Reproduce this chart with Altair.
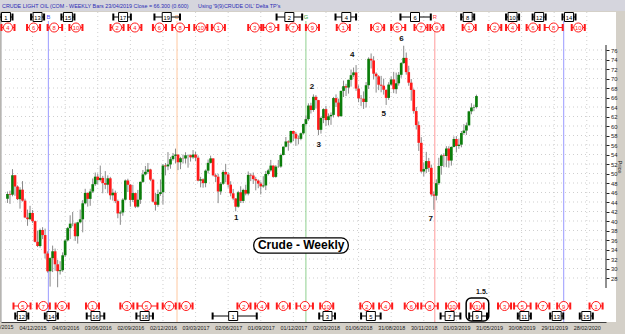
import altair as alt
import pandas as pd

# ---------------------------------------------------------------- data
REF = "2015-12-04"          # week 0 = first date label
first_week = "2015-09-25"   # first weekly bar (Fridays)

opens_2015 = [44.68, 45.70, 45.54, 49.63, 47.26, 44.60, 46.59, 44.29, 40.74, 40.39, 41.71, 39.97, 35.62, 34.73]
highs_2015 = [46.20, 46.40, 50.92, 49.70, 47.50, 47.10, 48.40, 44.70, 42.40, 43.20, 42.30, 40.10, 37.90, 38.40]
lows_2015 = [43.80, 43.60, 45.20, 45.30, 44.40, 42.60, 44.10, 40.60, 38.99, 40.20, 39.60, 35.50, 34.50, 34.40]
closes_2015 = [45.70, 45.54, 49.63, 47.26, 44.60, 46.59, 44.29, 40.74, 40.39, 41.71, 39.97, 35.62, 34.73, 38.10]

opens_2016 = [38.10, 37.04, 33.16, 29.42, 32.19, 33.62, 30.89, 29.44, 29.64, 32.78, 35.92, 38.50, 39.44, 39.46,
              36.79, 39.72, 40.36, 43.73, 45.92, 44.66, 46.21, 47.75, 49.33, 48.62, 49.07, 47.98, 47.64, 48.99,
              45.41, 45.95, 44.19, 41.60, 41.80, 44.49, 48.52, 47.64, 44.44, 45.88, 43.03, 44.48, 48.24, 49.81,
              50.35, 50.85, 48.70, 44.07, 43.41, 45.69, 46.06, 51.68, 51.50, 51.90, 53.02]
highs_2016 = [38.70, 38.40, 33.60, 32.35, 34.82, 34.20, 31.80, 31.53, 33.40, 36.20, 38.75, 41.20, 41.90, 39.70,
              39.80, 42.40, 44.40, 46.78, 46.00, 46.79, 48.95, 50.21, 49.93, 51.67, 49.50, 50.50, 49.60, 49.30,
              46.80, 46.40, 44.50, 42.20, 44.80, 48.75, 48.90, 47.80, 47.62, 46.00, 46.55, 48.30, 50.74, 51.60,
              52.22, 51.00, 48.90, 45.95, 46.60, 48.75, 52.00, 52.20, 54.51, 53.50, 54.33]
lows_2016 = [36.20, 32.10, 29.13, 26.19, 29.25, 29.52, 26.05, 28.73, 29.30, 32.40, 35.70, 36.20, 38.88, 35.80,
             35.24, 39.50, 37.61, 43.50, 43.03, 43.20, 45.90, 47.40, 47.70, 48.30, 45.83, 46.70, 45.83, 44.50,
             44.30, 43.76, 40.57, 39.19, 41.10, 44.30, 46.10, 43.01, 44.00, 42.72, 42.80, 43.60, 48.00, 49.60,
             49.91, 48.38, 43.89, 42.20, 43.00, 45.30, 43.50, 49.60, 50.70, 51.00, 52.70]
closes_2016 = [37.04, 33.16, 29.42, 32.19, 33.62, 30.89, 29.44, 29.64, 32.78, 35.92, 38.50, 39.44, 39.46, 36.79,
               39.72, 40.36, 43.73, 45.92, 44.66, 46.21, 47.75, 49.33, 48.62, 49.07, 47.98, 47.64, 48.99, 45.41,
               45.95, 44.19, 41.60, 41.80, 44.49, 48.52, 47.64, 44.44, 45.88, 43.03, 44.48, 48.24, 49.81, 50.35,
               50.85, 48.70, 44.07, 43.41, 45.69, 46.06, 51.68, 51.50, 51.90, 53.02, 53.72]

opens_2017 = [53.72, 53.99, 52.37, 53.22, 53.17, 53.83, 53.86, 53.40, 53.99, 53.33, 48.49, 48.78, 47.97, 50.60,
              52.24, 53.18, 49.62, 49.33, 46.22, 47.84, 50.33, 49.80, 47.66, 45.83, 44.74, 43.01, 46.04, 44.23,
              46.54, 45.77, 49.71, 49.58, 48.82, 48.51, 47.87, 47.29, 47.48, 49.89, 50.66, 51.67, 49.29, 51.45,
              51.47, 53.90, 55.64, 56.74, 56.55, 58.95, 58.36, 57.36, 57.30, 58.47]
highs_2017 = [55.24, 54.00, 53.50, 54.00, 54.48, 54.00, 54.00, 54.94, 54.62, 53.80, 49.30, 48.98, 50.85, 52.94,
              53.76, 53.20, 50.00, 49.94, 48.19, 50.71, 52.00, 50.22, 48.37, 46.75, 44.81, 46.35, 47.32, 46.80,
              47.65, 50.43, 50.05, 50.22, 49.30, 48.75, 48.30, 49.42, 50.53, 51.00, 52.86, 51.70, 51.76, 52.85,
              54.20, 55.70, 57.69, 57.00, 59.05, 59.05, 58.76, 58.00, 58.62, 60.51]
lows_2017 = [52.11, 50.71, 50.91, 52.10, 52.10, 51.22, 52.51, 53.10, 52.58, 48.34, 47.09, 47.01, 47.10, 50.00,
             52.10, 49.40, 48.18, 43.76, 45.52, 47.60, 48.18, 47.02, 45.20, 44.36, 42.05, 42.80, 43.79, 43.78,
             45.40, 45.40, 48.40, 47.80, 46.46, 46.90, 45.58, 47.00, 46.50, 49.60, 50.40, 49.10, 49.10, 51.20,
             51.20, 53.80, 55.50, 54.80, 56.30, 56.80, 55.82, 56.14, 56.99, 58.20]
closes_2017 = [53.99, 52.37, 53.22, 53.17, 53.83, 53.86, 53.40, 53.99, 53.33, 48.49, 48.78, 47.97, 50.60, 52.24,
               53.18, 49.62, 49.33, 46.22, 47.84, 50.33, 49.80, 47.66, 45.83, 44.74, 43.01, 46.04, 44.23, 46.54,
               45.77, 49.71, 49.58, 48.82, 48.51, 47.87, 47.29, 47.48, 49.89, 50.66, 51.67, 49.29, 51.45, 51.47,
               53.90, 55.64, 56.74, 56.55, 58.95, 58.36, 57.36, 57.30, 58.47, 60.42]

opens_2018 = [60.42, 61.44, 64.30, 63.37, 66.14, 65.45, 59.20, 61.68, 63.55, 61.25, 62.04, 62.34, 65.88, 64.94,
              62.06, 67.39, 68.38, 68.10, 69.72, 70.70, 71.28, 67.88, 65.81, 65.74, 65.06, 68.58, 74.15, 73.80,
              71.01, 70.46, 68.69, 68.49, 67.63, 65.91, 68.72, 69.80, 67.75, 68.99, 70.78, 73.25, 74.34, 71.34,
              69.12, 67.59, 63.14, 60.19, 56.46, 50.42, 50.93, 52.61, 51.20, 45.59]
highs_2018 = [62.21, 64.77, 64.89, 66.66, 66.49, 65.50, 61.95, 63.73, 64.24, 62.65, 62.85, 66.12, 66.66, 65.75,
              67.45, 69.56, 68.88, 69.76, 71.89, 72.30, 72.83, 68.56, 66.51, 67.28, 69.25, 74.46, 75.27, 74.69,
              71.30, 70.72, 70.55, 69.98, 67.67, 69.22, 70.40, 71.40, 71.25, 71.37, 73.47, 76.90, 75.47, 72.68,
              69.88, 67.86, 64.00, 60.97, 57.65, 52.34, 54.55, 53.28, 51.87, 46.24]
lows_2018 = [60.10, 61.10, 62.63, 63.00, 63.67, 58.07, 58.40, 60.60, 60.01, 60.15, 60.24, 61.80, 64.00, 61.84,
             62.00, 66.10, 66.30, 66.82, 68.30, 70.26, 67.40, 65.00, 64.22, 63.59, 63.89, 67.80, 72.10, 69.80,
             67.03, 67.55, 67.10, 66.61, 64.43, 65.50, 68.45, 66.92, 66.80, 68.50, 70.15, 73.10, 70.80, 68.47,
             65.33, 62.59, 59.26, 54.75, 50.15, 49.41, 50.08, 50.35, 45.16, 42.36]
closes_2018 = [61.44, 64.30, 63.37, 66.14, 65.45, 59.20, 61.68, 63.55, 61.25, 62.04, 62.34, 65.88, 64.94, 62.06,
               67.39, 68.38, 68.10, 69.72, 70.70, 71.28, 67.88, 65.81, 65.74, 65.06, 68.58, 74.15, 73.80, 71.01,
               70.46, 68.69, 68.49, 67.63, 65.91, 68.72, 69.80, 67.75, 68.99, 70.78, 73.25, 74.34, 71.34, 69.12,
               67.59, 63.14, 60.19, 56.46, 50.42, 50.93, 52.61, 51.20, 45.59, 45.33]

opens_2019 = [45.33, 47.96, 51.59, 53.80, 53.69, 55.26, 52.72, 55.59, 57.26, 55.80, 56.07, 58.52, 59.04, 60.14,
              63.08, 63.89, 64.00]
highs_2019 = [48.78, 53.31, 54.04, 54.24, 55.75, 55.75, 55.70, 57.81, 57.88, 57.34, 58.95, 60.39, 60.73, 63.20,
              64.79, 64.50, 66.60]
lows_2019 = [44.35, 47.60, 49.75, 51.33, 51.33, 51.23, 51.66, 55.50, 54.52, 55.20, 55.51, 58.12, 58.11, 60.12,
             62.47, 63.12, 63.70]
closes_2019 = [47.96, 51.59, 53.80, 53.69, 55.26, 52.72, 55.59, 57.26, 55.80, 56.07, 58.52, 59.04, 60.14, 63.08,
               63.89, 64.00, 66.30]

price_ticks = list(range(28, 77, 2))
date_labels = ["2015-12-04", "2016-03-04", "2016-06-03", "2016-09-02", "2016-12-02", "2017-03-03",
               "2017-06-02", "2017-09-01", "2017-12-01", "2018-03-02", "2018-06-01", "2018-08-31",
               "2018-11-30", "2019-03-01", "2019-05-31", "2019-08-30", "2019-11-29", "2020-02-28"]
cut_label = ["2015-09-04"]

# cycle markers, positions in weeks after REF
top_box_labels = ["1", "13", "15", "17", "19", "2", "4", "6", "8", "10", "12", "14"]
top_box_at = [-10.6, 2.0, 14.1, 36.1, 53.5, 102.4, 125.1, 152.5, 173.5, 191.4, 202.0, 213.9]
top_box_from = [None, None, None, 32.2, 48.6, 97.3, 120.8, 146.7, None, None, None, None]
top_box_to = [None, None, None, 39.2, 58.8, 107.5, 129.0, 158.8, None, None, None, None]

top_circ_labels = ["4", "6", "8", "10", "2", "4", "6", "8", "10", "1", "3", "5", "7", "9", "1", "3", "5",
                   "7", "9", "1", "2", "4", "6", "8", "10"]
top_circ_at = [-9.8, 0.4, 8.6, 17.3, 33.7, 40.8, 50.6, 58.8, 67.1, 74.1, 88.6, 94.9, 103.9, 111.6, 123.9,
               137.6, 145.5, 154.9, 161.2, 174.1, 184.3, 191.4, 199.6, 207.8, 217.6]
top_circ_from = [None, None, 6.0, None, None, None, None, 55.7, None, None, None, 92.0, None, None, None,
                 None, 143.0, None, None, None, None, None, None, 204.2, None]
top_circ_to = [None, None, 11.8, None, None, None, None, 62.4, None, None, None, 98.0, None, None, None,
               None, 148.6, None, None, None, None, None, None, 211.4, None]

bot_circ_labels = ["5", "7", "9", "1", "3", "5", "7", "9", "2", "4", "6", "8", "10", "2", "4", "6", "8",
                   "10", "(1)", "3", "5", "7", "9", "1"]
bot_circ_at = [-3.9, 4.3, 11.8, 23.9, 37.6, 45.5, 54.5, 61.2, 84.3, 91.4, 100.0, 108.6, 117.3, 133.3, 140.8,
               151.0, 158.4, 167.5, 177.3, 188.2, 195.3, 203.5, 211.8, 224.7]
bot_circ_from = [-7.6, None, None, None, None, 41.8, None, None, None, None, None, 105.2, None, None, None,
                 None, 155.0, None, None, None, 192.0, None, None, None]
bot_circ_to = [-0.8, None, None, None, None, 49.8, None, None, None, None, None, 111.8, None, None, None,
               None, 161.6, None, None, None, 198.6, None, None, None]

bot_box_labels = ["12", "14", "16", "18", "1", "3", "5", "7", "9", "11", "13", "15"]
bot_box_at = [-4.3, 7.5, 25.1, 44.7, 80.0, 117.6, 134.9, 166.3, 177.3, 196.1, 209.0, 220.8]
bot_box_from = [None, None, 21.6, 41.4, 71.8, 114.3, 131.0, 162.7, 174.1, None, None, None]
bot_box_to = [None, None, 28.6, 48.0, 89.4, 120.6, 138.8, 170.6, 181.2, None, None, None]

cycle_at = [6.3, 57.6, 109.0, 160.4, 211.8]
cycle_line_colors = ["#9a9aff", "#ffc8a0", "#8fd08f", "#ff9a9a", "#9a9aff"]
cycle_letters = ["B", "O", "G", "R", ""]
cycle_letter_colors = ["#4a4aff", "#ff9a50", "#30a030", "#ff3a3a", "#4a4aff"]

wave_labels = ["1", "2", "3", "4", "5", "6", "7"]
wave_at = [81.2, 111.4, 114.1, 127.5, 140.0, 147.1, 158.8]
wave_price = [40.6, 68.2, 56.0, 74.9, 62.5, 78.3, 40.4]

name_label = "Crude - Weekly"
name_at, name_from, name_to = 107.1, 88.2, 125.9
name_price, name_lo, name_hi = 34.85, 33.25, 36.45

focus_from, focus_to, focus_text_at = 172.9, 181.9, 179.2
focus_text = "1.5."

header_left = "CRUDE LIGHT OIL (COM  - WEEKLY Bars  23/04/2019 Close = 66.300 (0.600)"
header_right = "Using '9(9)CRUDE OIL' Delta TP's"

# ---------------------------------------------------------------- helpers
REF_TS = pd.Timestamp(REF, tz="UTC")


def at_week(w):
    return (REF_TS + pd.Timedelta(days=float(w) * 7)).strftime("%Y-%m-%dT%H:%M:%SZ")


def ms_of(ts):
    return int(ts.timestamp() * 1000)


FONT = "Liberation Sans, Arial, sans-serif"

opens = opens_2015 + opens_2016 + opens_2017 + opens_2018 + opens_2019
highs = highs_2015 + highs_2016 + highs_2017 + highs_2018 + highs_2019
lows = lows_2015 + lows_2016 + lows_2017 + lows_2018 + lows_2019
closes = closes_2015 + closes_2016 + closes_2017 + closes_2018 + closes_2019
dates = pd.date_range(first_week, periods=len(closes), freq="W-FRI").strftime("%Y-%m-%d").tolist()
candles = pd.DataFrame({"date": dates, "open": opens, "high": highs, "low": lows, "close": closes})
candles["dir"] = ["up" if c >= o else "down" for o, c in zip(opens, closes)]

W, H = 605, 310
x_lo = REF_TS + pd.Timedelta(days=(-27 / 2.55) * 7)
x_hi = REF_TS + pd.Timedelta(days=((605 - 27) / 2.55) * 7)
xs = alt.Scale(type="utc", domain=[ms_of(x_lo), ms_of(x_hi)])
ys = alt.Scale(domain=[18.737, 84.0], zero=False, nice=False)

label_ms = [ms_of(pd.Timestamp(d, tz="UTC")) for d in date_labels]
X_AXIS = alt.Axis(values=label_ms, format="%d/%m/%Y", title=None, grid=False, ticks=False,
                  domain=True, domainColor="#404040", labelFont=FONT, labelFontSize=5.4,
                  labelColor="#202020", labelPadding=3, labelOverlap=False, labelFlush=False, zindex=1)
Y_AXIS = alt.Axis(orient="right", values=price_ticks, title=None, grid=False, domain=False,
                  tickSize=3, tickColor="#202020", labelFont=FONT, labelFontSize=5.8,
                  labelColor="#202020", labelPadding=1.5, zindex=1)


def X(field):
    return alt.X(f"{field}:T", scale=xs, axis=X_AXIS)


def Y(field):
    return alt.Y(f"{field}:Q", scale=ys, axis=Y_AXIS)


one = pd.DataFrame({"t": [header_left]})
layers = []

# backgrounds
layers.append(alt.Chart(one).mark_rect(color="#d5d5dd").encode(
    x=alt.value(-2), x2=alt.value(626), y=alt.value(-12), y2=alt.value(-1)))
layers.append(alt.Chart(one).mark_rect(color="white").encode(
    x=alt.value(605), x2=alt.value(615), y=alt.value(0), y2=alt.value(H)))
layers.append(alt.Chart(one).mark_rule(color="#9a9a9a", strokeWidth=1).encode(
    x=alt.value(0), y=alt.value(0), y2=alt.value(H)))

# dotted grid
layers.append(alt.Chart(pd.DataFrame({"p": price_ticks})).mark_rule(
    color="#cfcfcf", strokeDash=[1, 3], strokeWidth=1).encode(
    y=Y("p"), x=alt.value(0), x2=alt.value(W)))
layers.append(alt.Chart(pd.DataFrame({"d": date_labels})).mark_rule(
    color="#cfcfcf", strokeDash=[1, 3], strokeWidth=1).encode(
    x=X("d"), y=alt.value(0), y2=alt.value(H)))

# cycle lines + letters
cyc = pd.DataFrame({"d": [at_week(w) for w in cycle_at], "lc": cycle_line_colors,
                    "t": cycle_letters, "tc": cycle_letter_colors})
layers.append(alt.Chart(cyc).mark_rule(strokeWidth=1).encode(
    x=X("d"), y=alt.value(9), y2=alt.value(H), color=alt.Color("lc:N", scale=None)))
layers.append(alt.Chart(cyc).mark_text(font=FONT, fontSize=5.8, baseline="middle").encode(
    x=X("d"), y=alt.value(5), text="t:N", color=alt.Color("tc:N", scale=None)))

# candles
layers.append(alt.Chart(candles).mark_rule(color="#8a8a8a", strokeWidth=1).encode(
    x=X("date"), y=Y("low"), y2="high:Q"))
layers.append(alt.Chart(candles).mark_bar(size=2.7).encode(
    x=X("date"), y=Y("open"), y2="close:Q",
    color=alt.Color("dir:N", scale=alt.Scale(domain=["up", "down"], range=["#0b7d0b", "#ff1a1a"]),
                    legend=None)))

# price axis line (only over the tick range)
layers.append(alt.Chart(one).mark_rule(color="#202020", strokeWidth=1).encode(
    x=alt.value(W), y=alt.YDatum(77.05, scale=ys, axis=Y_AXIS), y2=alt.Y2Datum(25.9)))

# wave labels
waves = pd.DataFrame({"d": [at_week(w) for w in wave_at], "p": wave_price, "t": wave_labels})
layers.append(alt.Chart(waves).mark_text(font=FONT, fontSize=8, fontWeight="bold", color="#111").encode(
    x=X("d"), y=Y("p"), text="t:N"))

# name box
nm = pd.DataFrame({"a": [at_week(name_from)], "b": [at_week(name_to)], "c": [at_week(name_at)],
                   "lo": [name_lo], "hi": [name_hi], "p": [name_price], "t": [name_label]})
layers.append(alt.Chart(nm).mark_rect(fill="white", stroke="black", strokeWidth=1.3, cornerRadius=7).encode(
    x=X("a"), x2="b:T", y=Y("lo"), y2="hi:Q"))
layers.append(alt.Chart(nm).mark_text(font=FONT, fontSize=12, fontWeight="bold", color="black",
                                      baseline="middle").encode(x=X("c"), y=Y("p"), text="t:N"))


# cycle-marker rows
def marker_layers(labels, at, lo, hi, y, kind):
    stub = 2.6
    rows = []
    for lab, c, a, b in zip(labels, at, lo, hi):
        a = c - stub if a is None else a
        b = c + stub if b is None else b
        rows.append({"label": lab, "c": at_week(c), "lo": at_week(a), "hi": at_week(b)})
    df = pd.DataFrame(rows)
    col = "#ff1a1a" if kind == "circle" else "#000000"
    base = alt.Chart(df)
    return [
        base.mark_rule(color=col, strokeWidth=1).encode(x=X("lo"), x2="hi:T", y=alt.value(y)),
        base.mark_rule(color=col, strokeWidth=2).encode(x=X("lo"), y=alt.value(y - 3.5), y2=alt.value(y + 3.5)),
        base.mark_rule(color=col, strokeWidth=2).encode(x=X("hi"), y=alt.value(y - 3.5), y2=alt.value(y + 3.5)),
        base.mark_point(shape=kind, size=82 if kind == "circle" else 81, filled=True, fill="white",
                        stroke=col, strokeWidth=1, opacity=1).encode(x=X("c"), y=alt.value(y)),
        base.mark_text(font=FONT, fontSize=5.8, color=col, baseline="middle").encode(
            x=X("c"), y=alt.value(y + 0.5), text="label:N"),
    ]


layers += marker_layers(top_box_labels, top_box_at, top_box_from, top_box_to, 5, "square")
layers += marker_layers(top_circ_labels, top_circ_at, top_circ_from, top_circ_to, 15.5, "circle")
layers += marker_layers(bot_circ_labels, bot_circ_at, bot_circ_from, bot_circ_to, 294, "circle")
layers += marker_layers(bot_box_labels, bot_box_at, bot_box_from, bot_box_to, 304, "square")

# focus box at the bottom
fc = pd.DataFrame({"a": [at_week(focus_from)], "b": [at_week(focus_to)], "c": [at_week(focus_text_at)],
                   "t": [focus_text]})
layers.append(alt.Chart(fc).mark_rect(filled=False, stroke="black", strokeWidth=1.5, cornerRadius=5).encode(
    x=X("a"), x2="b:T", y=alt.value(286), y2=alt.value(309)))
layers.append(alt.Chart(fc).mark_text(font=FONT, fontSize=7, fontWeight="bold", color="#111",
                                      baseline="middle").encode(x=X("c"), y=alt.value(280), text="t:N"))

# header texts
layers.append(alt.Chart(pd.DataFrame({"t": [header_left]})).mark_text(
    font=FONT, fontSize=5.4, color="#2b2bb5", align="left", baseline="middle").encode(
    x=alt.value(1), y=alt.value(-6.5), text="t:N"))
layers.append(alt.Chart(pd.DataFrame({"t": [header_right]})).mark_text(
    font=FONT, fontSize=5.4, color="#2b2bb5", align="left", baseline="middle").encode(
    x=alt.value(197), y=alt.value(-6.5), text="t:N"))

# "Price" title
layers.append(alt.Chart(pd.DataFrame({"t": ["Price"]})).mark_text(
    font=FONT, fontSize=5.8, color="#202020", angle=90, baseline="middle").encode(
    x=alt.value(619), y=alt.value(155), text="t:N"))

# cut-off first date label
cut = pd.DataFrame({"d": cut_label})
layers.append(alt.Chart(cut).transform_calculate(
    t="timeFormat(toDate(datum.d), '%d/%m/%Y')").mark_text(
    font=FONT, fontSize=5.4, color="#202020", baseline="top").encode(
    x=X("d"), y=alt.value(313), text="t:N"))

chart = alt.layer(*layers).properties(
    width=W, height=H, autosize="none",
    padding={"left": 1, "top": 12, "right": 19, "bottom": 12},
    background="#d4d0c8",
).configure_view(fill="white", stroke=None)

chart.save("out.html", embed_options={"renderer": "svg", "actions": False})
